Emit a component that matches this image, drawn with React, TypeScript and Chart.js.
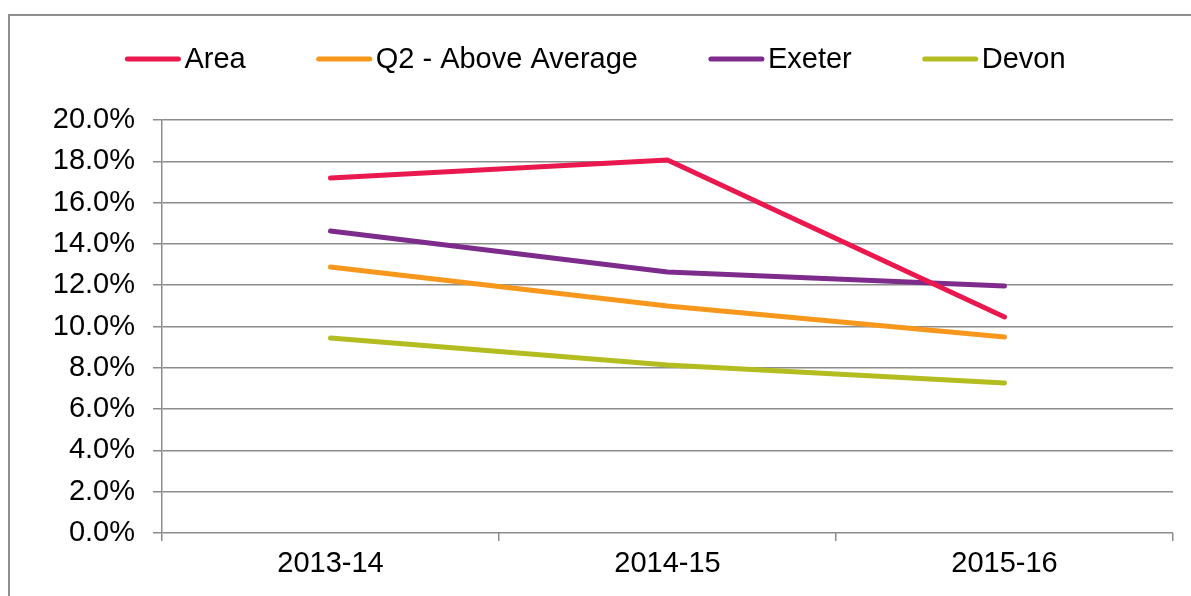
import React, { useEffect, useRef } from "react";
import { Chart, registerables } from "chart.js";

Chart.register(...registerables);

const categories = ["2013-14", "2014-15", "2015-16"];
const areaValues = [17.19, 18.06, 10.46];
const q2Values = [12.88, 10.99, 9.49];
const exeterValues = [14.62, 12.64, 11.96];
const devonValues = [9.44, 8.14, 7.26];
const seriesNames = ["Area", "Q2 - Above Average", "Exeter", "Devon"];
const seriesColors = ["#E9194F", "#F7981D", "#7D2C8C", "#B3BD1F"];
const yTickMin = 0;
const yTickMax = 20;
const yTickStep = 2;

const FONT = "'Liberation Sans', Arial, sans-serif";

const frameAndLegend = {
  id: "frameAndLegend",
  afterDraw(chart: any) {
    const ctx = chart.ctx as CanvasRenderingContext2D;
    ctx.save();
    // outer frame
    ctx.strokeStyle = "#8f8f8f";
    ctx.lineWidth = 2;
    ctx.strokeRect(9, 15, 1400, 1000);
    // legend
    ctx.font = `29px ${FONT}`;
    const lineLen = 55;
    const gapText = 4;
    const itemGap = 71;
    const widths = seriesNames.map((n) => lineLen + gapText + ctx.measureText(n).width);
    const total = widths.reduce((a, b) => a + b, 0) + itemGap * (widths.length - 1);
    let x = chart.width / 2 - total / 2;
    const y = 59;
    seriesNames.forEach((n, i) => {
      ctx.strokeStyle = seriesColors[i];
      ctx.lineWidth = 5;
      ctx.lineCap = "round";
      ctx.beginPath();
      ctx.moveTo(x + 2, y);
      ctx.lineTo(x + lineLen - 2, y);
      ctx.stroke();
      ctx.fillStyle = "#000";
      ctx.textBaseline = "middle";
      ctx.textAlign = "left";
      ctx.fillText(n, x + lineLen + gapText, y + 1);
      x += widths[i] + itemGap;
    });
    ctx.restore();
  },
};

export default function App() {
  const ref = useRef<HTMLCanvasElement | null>(null);
  useEffect(() => {
    if (!ref.current) return;
    const values = [areaValues, q2Values, exeterValues, devonValues];
    const chart = new Chart(ref.current, {
      type: "line",
      data: {
        labels: categories,
        datasets: values.map((v, i) => ({
          label: seriesNames[i],
          data: v,
          borderColor: seriesColors[i],
          backgroundColor: seriesColors[i],
          borderWidth: 5,
          pointRadius: 0,
          pointHoverRadius: 0,
          borderCapStyle: "round" as const,
          borderJoinStyle: "round" as const,
          tension: 0,
        })),
      },
      options: {
        animation: false,
        responsive: false,
        layout: { padding: { top: 120, right: 18, left: 0, bottom: 0 } },
        plugins: {
          legend: { display: false },
          tooltip: { enabled: false },
        },
        scales: {
          x: {
            offset: true,
            afterFit: (s: any) => {
              s.height = 63;
            },
            grid: {
              offset: true,
              drawOnChartArea: false,
              drawTicks: true,
              tickLength: 8,
              color: "#8c8c8c",
              lineWidth: 1.5,
            },
            border: { display: false },
            ticks: {
              color: "#000",
              font: { family: FONT, size: 29 },
              padding: 6,
              maxRotation: 0,
            },
          },
          y: {
            min: yTickMin,
            max: yTickMax,
            afterFit: (s: any) => {
              s.width = 162;
            },
            grid: {
              color: "#8c8c8c",
              lineWidth: 1.5,
              tickLength: 9,
            },
            border: { display: true, color: "#8c8c8c", width: 1.5 },
            ticks: {
              stepSize: yTickStep,
              color: "#000",
              font: { family: FONT, size: 29 },
              padding: 18,
              callback: (v: any) => Number(v).toFixed(1) + "%",
            },
          },
        },
      },
      plugins: [frameAndLegend],
    });
    return () => chart.destroy();
  }, []);
  return (
    <div style={{ position: "fixed", left: 0, top: 0, width: 1191, height: 596, background: "#fff" }}>
      <canvas ref={ref} width={1191} height={596} style={{ display: "block", width: 1191, height: 596 }} />
    </div>
  );
}
